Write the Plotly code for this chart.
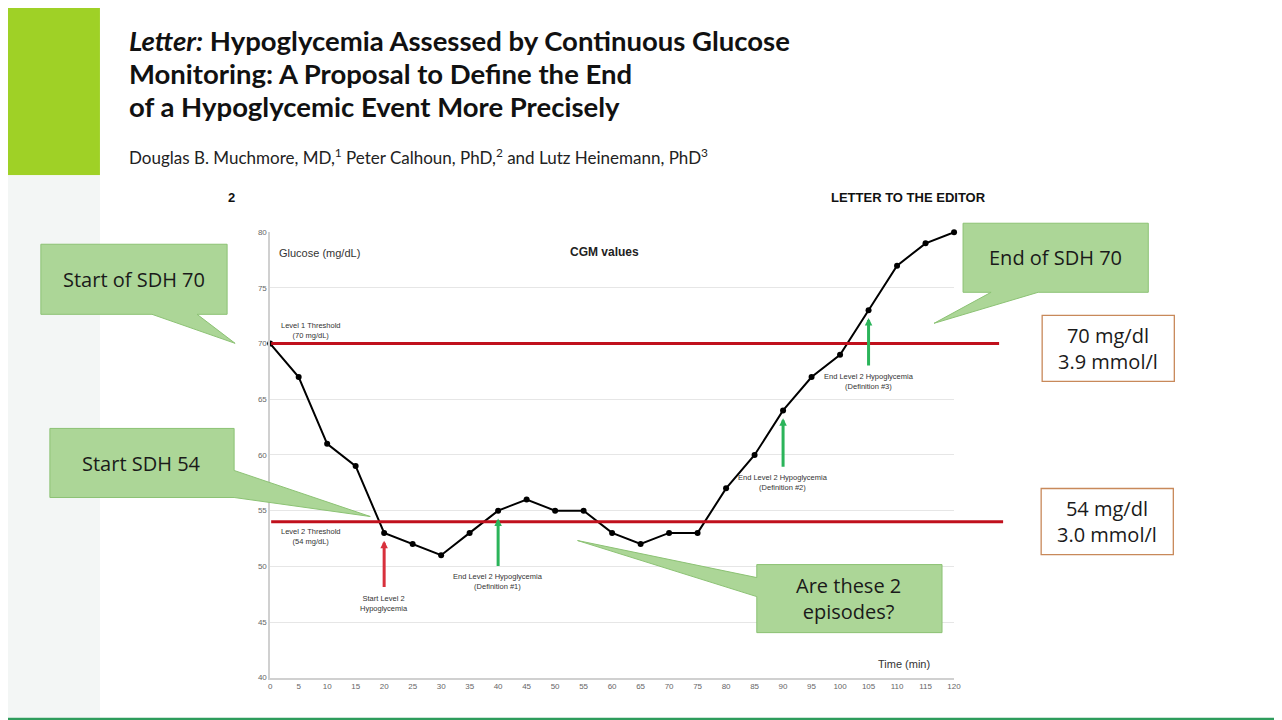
import plotly.graph_objects as go

W, H = 1282, 720
# the page adds a body margin and the photo is slightly scaled; map target pixels to figure pixels
OFF = 8
SX, BX = 0.9917, 2.24
SY, BY = 0.9865, 4.1

# CGM readings
time_min = [0, 5, 10, 15, 20, 25, 30, 35, 40, 45, 50, 55, 60, 65, 70, 75, 80, 85, 90, 95, 100, 105, 110, 115, 120]
glucose = [70, 67, 61, 59, 53, 52, 51, 53, 55, 56, 55, 55, 53, 52, 53, 53, 57, 60, 64, 67, 69, 73, 77, 79, 80]

thresholds = [70, 54]
threshold_labels = ["Level 1 Threshold<br>(70 mg/dL)", "Level 2 Threshold<br>(54 mg/dL)"]
unit_labels = ["70 mg/dl<br>3.9 mmol/l", "54 mg/dl<br>3.0 mmol/l"]

# event arrows: x, from y, to y
arrow_x = [20, 40, 90, 105]
arrow_from = [48.0, 49.9, 58.8, 67.9]
arrow_to = [52.3, 54.3, 63.3, 72.3]
arrow_col = ["#d8303c", "#2bb45a", "#2bb45a", "#2bb45a"]
arrow_text = ["Start Level 2<br>Hypoglycemia",
              "End Level 2 Hypoglycemia<br>(Definition #1)",
              "End Level 2 Hypoglycemia<br>(Definition #2)",
              "End Level 2 Hypoglycemia<br>(Definition #3)"]

callout_text = ["Start of SDH 70", "End of SDH 70", "Start SDH 54", "Are these 2<br>episodes?"]


def px(x):
  return ((x - BX) / SX - OFF) / W


def py(y):
  return 1 - ((y - BY) / SY - OFF) / H


def path(pts):
  return "M " + " L ".join(f"{px(x):.5f},{py(y):.5f}" for x, y in pts) + " Z"


def rect(x0, y0, x1, y1, color, layer="below"):
  return dict(type="rect", xref="paper", yref="paper", x0=px(x0), x1=px(x1),
              y0=py(y1), y1=py(y0), fillcolor=color, line_width=0, layer=layer)


fig = go.Figure()
fig.add_trace(go.Scatter(x=time_min, y=glucose, mode="lines+markers",
                         line=dict(color="black", width=2),
                         marker=dict(color="black", size=6),
                         cliponaxis=False, showlegend=False, hoverinfo="x+y"))

shapes = []
# slide side panel and frame
shapes.append(rect(0, 0, 100, 175, "#9fd126"))
shapes.append(rect(0, 175, 100, 717, "#f3f6f5"))
side_cols = ["#0d4d2a", "#10582f", "#136435", "#16703c", "#1a7c43", "#1d884a", "#209350"]
step = 720 / len(side_cols)
for i, c in enumerate(side_cols):
  y0 = i * step
  shapes.append(rect(1274, y0, 1300, y0 + step + 1, c))
shapes.append(rect(0, 717, 1300, 740, "#2e9c5c"))

# threshold lines run past the axis to the unit boxes
for t, x_end in zip(thresholds, [998, 1002]):
  shapes.append(dict(type="line", xref="paper", yref="y", x0=px(271), x1=px(x_end),
                     y0=t, y1=t, line=dict(color="#c0101c", width=3), layer="above"))

# callouts (box + tail)
green_fill = "#acd697"
green_line = "#8cc274"
callout_paths = [
  [(41, 244), (227, 244), (227, 314), (197, 314), (235, 343), (152, 314), (41, 314)],
  [(962, 223), (1147, 223), (1147, 292), (1037, 292), (933, 323), (990, 292), (962, 292)],
  [(50, 428), (234, 428), (234, 470), (370, 516), (234, 497), (50, 497)],
  [(756, 564), (941, 564), (941, 632), (756, 632), (756, 596), (577, 540), (756, 577)],
]
for pts in callout_paths:
  shapes.append(dict(type="path", xref="paper", yref="paper", path=path(pts),
                     fillcolor=green_fill, line=dict(color=green_line, width=1), layer="above"))

# unit boxes
for (x0, y0, x1, y1) in [(1041, 315, 1173, 381), (1040, 488, 1172, 554)]:
  shapes.append(dict(type="rect", xref="paper", yref="paper", x0=px(x0), x1=px(x1),
                     y0=py(y1), y1=py(y0), fillcolor="white",
                     line=dict(color="#c8895a", width=1.3), layer="above"))


def note(text, x, y, size, family="Liberation Sans", color="#111111", xanchor="center", weight=None):
  f = dict(family=family, size=size, color=color)
  if weight:
    f["weight"] = weight
  return dict(text=text, x=px(x), y=py(y), xref="paper", yref="paper", xanchor=xanchor,
              yanchor="middle", showarrow=False, font=f)


annotations = []
title_lines = ["<i>Letter:</i> Hypoglycemia Assessed by Continuous Glucose",
               "Monitoring: A Proposal to Define the End",
               "of a Hypoglycemic Event More Precisely"]
for i, t in enumerate(title_lines):
  annotations.append(note(t, 127, 40 + 33 * i, 27.5, "Lato", "#111111", "left", 700))
annotations.append(note(
  "Douglas B. Muchmore, MD,<sup>1</sup> Peter Calhoun, PhD,<sup>2</sup> and Lutz Heinemann, PhD<sup>3</sup>",
  127, 156, 17, "Lato", "#222222", "left"))
annotations.append(note("<b>2</b>", 231, 197, 13))
annotations.append(note("<b>LETTER TO THE EDITOR</b>", 987, 197, 13, xanchor="right"))

annotations.append(note("Glucose (mg/dL)", 277, 253, 11, color="#333333", xanchor="left"))
annotations.append(note("<b>CGM values</b>", 604, 252, 12, color="#222222"))
annotations.append(note("Time (min)", 931, 663, 11, color="#333333", xanchor="right"))

small = dict(family="Liberation Sans", size=7.5, color="#333333")
for t, lab in zip(thresholds, threshold_labels):
  annotations.append(dict(text=lab, x=px(310), y=t, xref="paper", yref="y", xanchor="center",
                          yanchor="bottom" if t == 70 else "top", yshift=2 if t == 70 else -3,
                          showarrow=False, font=small))

for x, y0, y1, c, lab in zip(arrow_x, arrow_from, arrow_to, arrow_col, arrow_text):
  annotations.append(dict(x=x, y=y1, ax=x, ay=y0, xref="x", yref="y", axref="x", ayref="y",
                          text="", showarrow=True, arrowhead=2, arrowsize=0.5, arrowwidth=3,
                          arrowcolor=c))
  annotations.append(dict(text=lab, x=x, y=y0, xref="x", yref="y", xanchor="center",
                          yanchor="top", yshift=-3, showarrow=False, font=small))

callout_pos = [(134, 279), (1054, 257), (142, 463), (848, 598)]
for (cx, cy), t in zip(callout_pos, callout_text):
  annotations.append(note(t, cx, cy, 20, "Open Sans", "#1a1a1a"))

unit_pos = [(1107, 348), (1106, 521)]
for (cx, cy), t in zip(unit_pos, unit_labels):
  annotations.append(note(t, cx, cy, 20, "Open Sans", "#1a1a1a"))

axis_font = dict(family="Liberation Sans", size=8, color="#666666")
fig.update_layout(
  width=W, height=H,
  margin=dict(l=0, r=0, t=0, b=0),
  paper_bgcolor="white",
  plot_bgcolor="rgba(0,0,0,0)",
  shapes=shapes,
  annotations=annotations,
  xaxis=dict(domain=[px(270), px(953)], range=[0, 120], tickvals=time_min,
             showgrid=False, zeroline=False, showline=True, linecolor="#d0d0d0",
             linewidth=1.5, tickfont=axis_font, ticks=""),
  yaxis=dict(domain=[py(677), py(232)], range=[40, 80], dtick=5,
             showgrid=True, gridcolor="#e6e6e6", zeroline=False, showline=True,
             linecolor="#d0d0d0", linewidth=1.5, tickfont=axis_font, ticks=""),
)

fig.write_html("out.html")
